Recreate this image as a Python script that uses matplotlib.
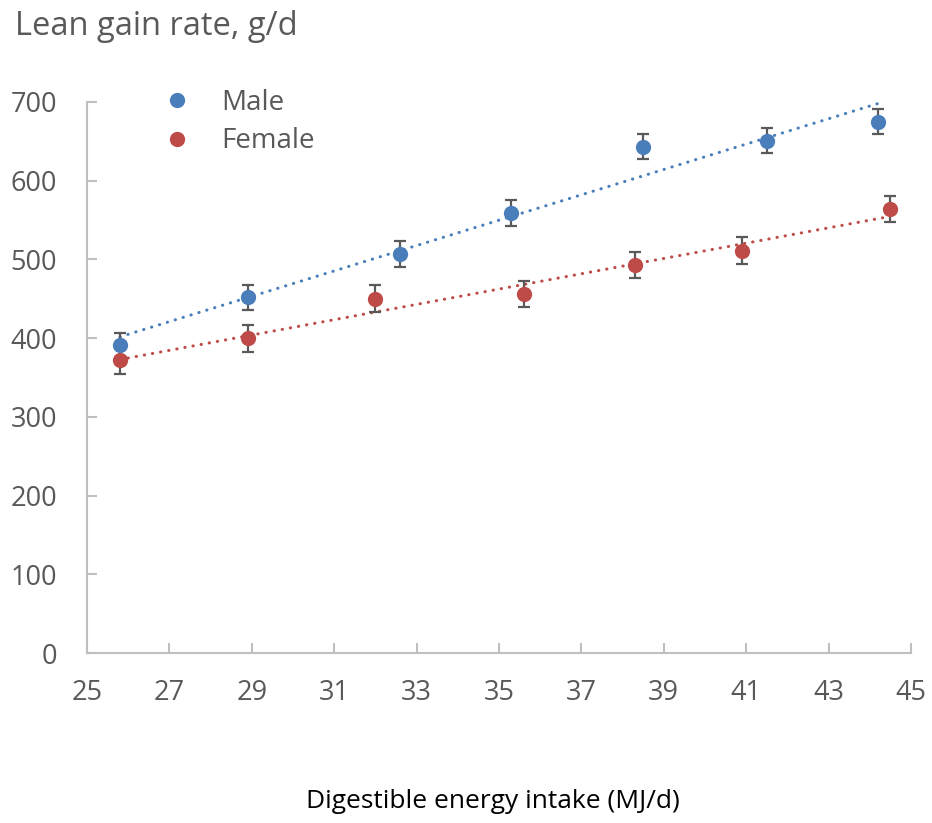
import numpy as np
import matplotlib
matplotlib.use("Agg")
import matplotlib.pyplot as plt

plt.rcParams['font.family'] = ['Open Sans', 'DejaVu Sans']

male_x = [25.8, 28.9, 32.6, 35.3, 38.5, 41.5, 44.2]
male_y = [391, 452, 507, 559, 643, 651, 675]
male_err = [15, 16, 16, 16, 16, 16, 16]
female_x = [25.8, 28.9, 32.0, 35.6, 38.3, 40.9, 44.5]
female_y = [372, 400, 450, 456, 493, 511, 564]
female_err = [17, 17, 17, 17, 17, 17, 17]

xticks = [25, 27, 29, 31, 33, 35, 37, 39, 41, 43, 45]
yticks = [0, 100, 200, 300, 400, 500, 600, 700]

W, H = 932, 823
fig = plt.figure(figsize=(W / 100, H / 100), dpi=100)
ax = fig.add_axes([87 / W, (H - 653) / H, (911 - 87) / W, (653 - 102) / H])

blue = '#4a7ebb'
red = '#be4b48'
gray_txt = '#595959'
spine_c = '#bfbfbf'

for xs, ys, es, c, lab in [(male_x, male_y, male_err, blue, 'Male'),
                           (female_x, female_y, female_err, red, 'Female')]:
    xs = np.array(xs); ys = np.array(ys)
    k, b = np.polyfit(xs, ys, 1)
    xl = np.array([xs.min(), xs.max()])
    ax.plot(xl, k * xl + b, color=c, lw=2.2, linestyle=(0, (0.1, 2.6)),
            dash_capstyle='round', zorder=2)
    ax.errorbar(xs, ys, yerr=es, fmt='none', ecolor='#595959', elinewidth=1.6,
                capsize=4.5, capthick=1.6, zorder=3)
    ax.plot(xs, ys, 'o', color=c, markersize=11, markeredgewidth=0, zorder=4, label=lab)

ax.set_xlim(25, 45)
ax.set_ylim(0, 700)
ax.set_xticks(xticks)
ax.set_yticks(yticks)
for s in ['top', 'right']:
    ax.spines[s].set_visible(False)
for s in ['left', 'bottom']:
    ax.spines[s].set_color(spine_c)
    ax.spines[s].set_linewidth(1.5)
ax.tick_params(axis='both', direction='in', length=7, width=1.5, color=spine_c,
               labelcolor=gray_txt, labelsize=19.5)
ax.tick_params(axis='y', pad=21.5)
ax.tick_params(axis='x', pad=19)

leg = ax.legend(loc='upper left', bbox_to_anchor=(150.5 / W, 1 - 75 / H),
                bbox_transform=fig.transFigure, frameon=False, fontsize=20,
                handlelength=0.9, handletextpad=1.13, labelspacing=0.38,
                borderpad=0, markerscale=1.0)
for t in leg.get_texts():
    t.set_color(gray_txt)

fig.text(15 / W, 1 - 35 / H, 'Lean gain rate, g/d', fontsize=23.5, color=gray_txt,
         ha='left', va='baseline')
fig.text(492.5 / W, 1 - 808 / H, 'Digestible energy intake (MJ/d)', fontsize=19,
         color='black', ha='center', va='baseline')

fig.savefig('out.png', dpi=100)
